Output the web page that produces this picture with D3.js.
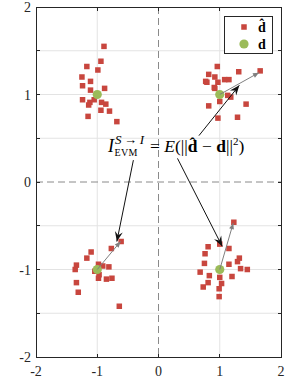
<!DOCTYPE html>
<html>
<head>
<meta charset="utf-8">
<script src="https://cdnjs.cloudflare.com/ajax/libs/d3/7.8.5/d3.min.js"></script>
<style>
  body { margin: 0; background: #fff; }
  text { font-family: "Liberation Serif", "DejaVu Serif", serif; }
</style>
</head>
<body>
<script>
// received symbols (d hat)
var dHatX = [-0.89, -0.94, -1.17, -0.99, -1.25, -1.11, -1.24, -1.11, -0.88, -1.24, -1.05, -1.12, -1.14, -0.93, -0.86, -0.94, -0.80, -1.15, -0.68,
    0.96, 1.31, 1.66, 0.82, 0.92, 0.77, 0.79, 0.97, 1.08, 1.15, 0.91, 0.92, 1.13, 1.18, 1.00, 0.82, 1.43, 0.97, 1.29,
    -0.61, -0.77, -1.10, -1.17, -1.34, -1.36, -0.98, -0.91, -0.81, -1.04, -0.97, -0.98, -0.85, -0.76, -1.34, -1.31, -0.64,
    1.23, 1.00, 1.15, 0.81, 0.76, 0.75, 0.68, 1.32, 1.29, 1.15, 1.34, 1.45, 0.83, 1.00, 1.20, 0.81, 1.03, 0.73, 0.99, 0.99];
var dHatY = [1.55, 1.38, 1.32, 1.28, 1.20, 1.15, 1.10, 1.05, 1.07, 0.94, 0.94, 0.91, 0.88, 0.91, 0.89, 0.82, 0.81, 0.75, 0.69,
    1.32, 1.26, 1.27, 1.23, 1.20, 1.15, 1.14, 1.14, 1.17, 1.17, 1.08, 1.07, 0.99, 0.97, 0.92, 0.87, 0.89, 0.73, 0.74,
    -0.68, -0.76, -0.80, -0.87, -0.95, -1.00, -0.94, -0.96, -0.97, -1.02, -1.06, -1.10, -1.11, -1.10, -1.15, -1.26, -1.42,
    -0.46, -0.71, -0.76, -0.74, -0.82, -0.93, -1.03, -0.87, -0.91, -0.94, -0.99, -1.00, -1.07, -1.09, -1.08, -1.15, -1.16, -1.20, -1.22, -1.31];
// transmitted symbols (d)
var dX = [-1, 1, -1, 1];
var dY = [1, 1, -1, -1];
// error vectors (gray)
var errFromX = [1, -1, 1];
var errFromY = [1, -1, -1];
var errToX = [1.64, -0.62, 1.22];
var errToY = [1.25, -0.68, -0.47];
// annotation arrows (black)
var noteFromX = [0.66, -0.41, 0.31];
var noteFromY = [0.53, 0.25, 0.27];
var noteToX = [1.32, -0.68, 1.04];
var noteToY = [1.105, -0.68, -0.735];
var xTicks = [-2, -1, 0, 1, 2];
var yTicks = [-2, -1.5, -1, -0.5, 0, 0.5, 1, 1.5, 2];

var width = 299,
    height = 380;
var plotL = 36, plotR = 281, plotT = 7, plotB = 357;
var axisColor = "#262626";

var svg = d3.select("body")
    .append("svg")
    .attr("width", width)
    .attr("height", height);

var x = d3.scaleLinear().domain([-2, 2]).range([plotL, plotR]);
var y = d3.scaleLinear().domain([-2, 2]).range([plotB, plotT]);

// grid
svg.selectAll(".gy")
    .data(yTicks.filter(function (d) { return d != 0 && Math.abs(d) != 2; }))
    .enter().append("line")
    .attr("x1", plotL).attr("x2", plotR)
    .attr("y1", function (d) { return y(d); })
    .attr("y2", function (d) { return y(d); })
    .attr("stroke", "#e3e3e3");
svg.selectAll(".gx")
    .data([-1, 1])
    .enter().append("line")
    .attr("y1", plotT).attr("y2", plotB)
    .attr("x1", function (d) { return x(d); })
    .attr("x2", function (d) { return x(d); })
    .attr("stroke", "#e3e3e3");

// dashed zero lines
svg.append("line")
    .attr("x1", plotL).attr("x2", plotR).attr("y1", y(0)).attr("y2", y(0))
    .attr("stroke", "#8a8a8a").attr("stroke-dasharray", "7,4");
svg.append("line")
    .attr("x1", x(0)).attr("x2", x(0)).attr("y1", plotT).attr("y2", plotB)
    .attr("stroke", "#8a8a8a").attr("stroke-dasharray", "7,4");

// axes box and ticks (inward)
var gb = svg.append("g").attr("stroke", axisColor).attr("shape-rendering", "crispEdges");
gb.append("rect").attr("x", plotL).attr("y", plotT).attr("width", plotR - plotL).attr("height", plotB - plotT)
    .attr("fill", "none").attr("stroke", axisColor);
yTicks.forEach(function (t) {
    gb.append("line").attr("x1", plotL).attr("x2", plotL + 3.5).attr("y1", y(t)).attr("y2", y(t));
    gb.append("line").attr("x1", plotR).attr("x2", plotR - 3.5).attr("y1", y(t)).attr("y2", y(t));
});
xTicks.forEach(function (t) {
    gb.append("line").attr("y1", plotB).attr("y2", plotB - 3.5).attr("x1", x(t)).attr("x2", x(t));
    gb.append("line").attr("y1", plotT).attr("y2", plotT + 3.5).attr("x1", x(t)).attr("x2", x(t));
});

// tick labels
svg.selectAll(".yl")
    .data(yTicks.filter(function (d) { return d % 1 == 0; }))
    .enter().append("text")
    .attr("x", plotL - 5)
    .attr("y", function (d) { return y(d) + 5; })
    .attr("text-anchor", "end")
    .attr("font-size", 14)
    .attr("fill", axisColor)
    .text(function (d) { return d; });
svg.selectAll(".xl")
    .data(xTicks)
    .enter().append("text")
    .attr("x", function (d) { return x(d); })
    .attr("y", plotB + 19)
    .attr("text-anchor", "middle")
    .attr("font-size", 14)
    .attr("fill", axisColor)
    .text(function (d) { return d; });

// markers
var s = 5.5;
svg.selectAll(".est")
    .data(dHatX)
    .enter().append("rect")
    .attr("x", function (d) { return x(d) - s / 2; })
    .attr("y", function (d, i) { return y(dHatY[i]) - s / 2; })
    .attr("width", s).attr("height", s)
    .attr("fill", "#c8463e");
svg.selectAll(".sym")
    .data(dX)
    .enter().append("circle")
    .attr("cx", function (d) { return x(d); })
    .attr("cy", function (d, i) { return y(dY[i]); })
    .attr("r", 4.6)
    .attr("fill", "#9bbb59");

function arrowHead(x1, y1, x2, y2, len, half, back, color) {
    var a = Math.atan2(y2 - y1, x2 - x1);
    var c = Math.cos(a), sn = Math.sin(a);
    var p = [
        [x2, y2],
        [x2 - len * c + half * sn, y2 - len * sn - half * c],
        [x2 - back * c, y2 - back * sn],
        [x2 - len * c - half * sn, y2 - len * sn + half * c]
    ];
    svg.append("path").attr("d", "M" + p.join("L") + "Z").attr("fill", color);
}

// error vectors
errToX.forEach(function (d, i) {
    var x1 = x(errFromX[i]), y1 = y(errFromY[i]), x2 = x(d), y2 = y(errToY[i]);
    svg.append("line").attr("x1", x1).attr("y1", y1).attr("x2", x2).attr("y2", y2)
        .attr("stroke", "#7f7f7f").attr("stroke-width", 1);
    arrowHead(x1, y1, x2, y2, 6, 2.5, 6, "#7f7f7f");
});

// annotation arrows
noteToX.forEach(function (d, i) {
    var x1 = x(noteFromX[i]), y1 = y(noteFromY[i]), x2 = x(d), y2 = y(noteToY[i]);
    svg.append("line").attr("x1", x1).attr("y1", y1).attr("x2", x2).attr("y2", y2)
        .attr("stroke", "#111").attr("stroke-width", 1);
    arrowHead(x1, y1, x2, y2, 10, 4, 6.5, "#111");
});

// equation
var eqX = 108, eqY = 152;
var tI = svg.append("text").attr("x", eqX).attr("y", eqY)
    .attr("font-size", 18).attr("font-style", "italic").text("I");
var wI = tI.node().getComputedTextLength();
svg.append("text").attr("x", eqX + wI + 1).attr("y", eqY - 8.5)
    .attr("font-size", 13).attr("font-style", "italic").text("S\u2009\u2192\u2009I");
svg.append("text").attr("x", eqX + wI + 0.5).attr("y", eqY + 4)
    .attr("font-size", 10).attr("letter-spacing", 0.3).text("EVM");
var eq = svg.append("text").attr("x", 150).attr("y", eqY).attr("font-size", 17.5);
eq.append("tspan").text("= ");
eq.append("tspan").attr("font-style", "italic").text("E");
eq.append("tspan").text("(||");
eq.append("tspan").attr("font-weight", "bold").text("d\u0302");
eq.append("tspan").text(" \u2212 ");
eq.append("tspan").attr("font-weight", "bold").text("d");
eq.append("tspan").text("||");
eq.append("tspan").attr("font-size", 11).attr("dy", -7).text("2");
eq.append("tspan").attr("dy", 7).text(")");

// legend
var lg = svg.append("g");
lg.append("rect").attr("x", 224.5).attr("y", 16.5).attr("width", 48).attr("height", 37)
    .attr("fill", "#fff").attr("stroke", axisColor);
lg.append("rect").attr("x", 244 - s / 2).attr("y", 27 - s / 2).attr("width", s).attr("height", s)
    .attr("fill", "#c8463e");
lg.append("circle").attr("cx", 244).attr("cy", 44).attr("r", 4.6).attr("fill", "#9bbb59");
lg.append("text").attr("x", 258).attr("y", 31.5).attr("font-size", 14).attr("font-weight", "bold").text("d\u0302");
lg.append("text").attr("x", 258).attr("y", 48.5).attr("font-size", 14).attr("font-weight", "bold").text("d");
</script>
</body>
</html>
